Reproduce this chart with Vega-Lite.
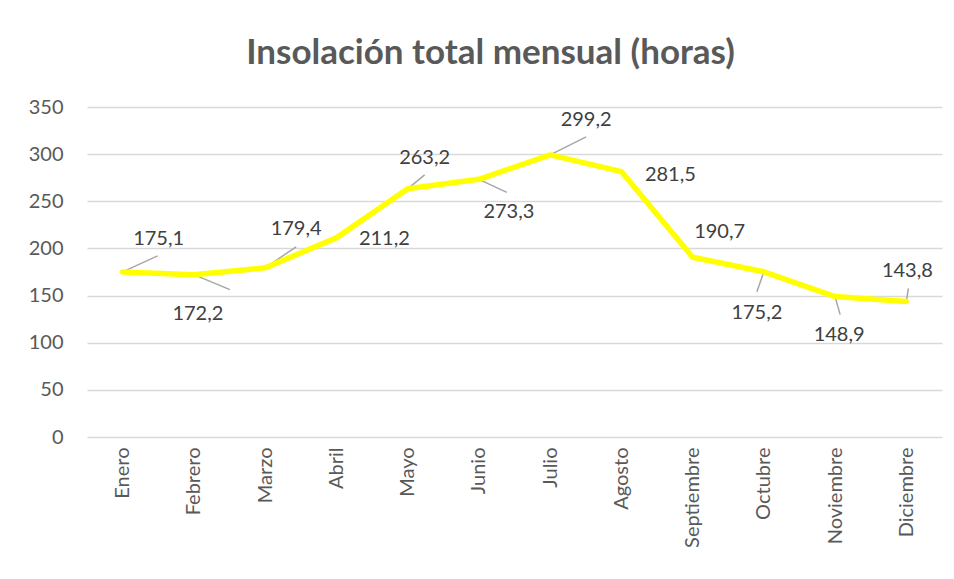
{
  "$schema": "https://vega.github.io/schema/vega-lite/v6.json",
  "width": 855,
  "height": 330,
  "autosize": {"type": "none"},
  "padding": {"left": 87, "top": 107, "right": 12, "bottom": 142},
  "background": "white",
  "config": {
    "locale": {"number": {"decimal": ",", "thousands": ".", "grouping": [3], "currency": ["", " €"]}},
    "view": {"stroke": null},
    "font": "Lato"
  },
  "title": {
    "text": "Insolación total mensual (horas)",
    "font": "Lato",
    "fontSize": 35,
    "fontWeight": "bold",
    "color": "#595959",
    "anchor": "middle",
    "dx": -24,
    "offset": 26
  },
  "data": {
    "values": [
      {"Mes": "Enero", "Horas": 175.1},
      {"Mes": "Febrero", "Horas": 172.2},
      {"Mes": "Marzo", "Horas": 179.4},
      {"Mes": "Abril", "Horas": 211.2},
      {"Mes": "Mayo", "Horas": 263.2},
      {"Mes": "Junio", "Horas": 273.3},
      {"Mes": "Julio", "Horas": 299.2},
      {"Mes": "Agosto", "Horas": 281.5},
      {"Mes": "Septiembre", "Horas": 190.7},
      {"Mes": "Octubre", "Horas": 175.2},
      {"Mes": "Noviembre", "Horas": 148.9},
      {"Mes": "Diciembre", "Horas": 143.8}
    ]
  },
  "encoding": {
    "x": {
      "field": "Mes",
      "type": "nominal",
      "sort": ["Enero", "Febrero", "Marzo", "Abril", "Mayo", "Junio", "Julio", "Agosto", "Septiembre", "Octubre", "Noviembre", "Diciembre"],
      "scale": {"type": "point", "padding": 0.5},
      "axis": {
        "title": null,
        "labelAngle": 270,
        "labelAlign": "right",
        "labelBaseline": "middle",
        "labelFont": "Lato",
        "labelFontSize": 20,
        "labelColor": "#595959",
        "labelPadding": 10,
        "ticks": false,
        "domain": false,
        "grid": false
      }
    },
    "y": {
      "field": "Horas",
      "type": "quantitative",
      "scale": {"domain": [0, 350]},
      "axis": {
        "title": null,
        "values": [0, 50, 100, 150, 200, 250, 300, 350],
        "labelFont": "Lato",
        "labelFontSize": 20,
        "labelColor": "#595959",
        "labelPadding": 24,
        "ticks": false,
        "domain": false,
        "gridColor": "#d9d9d9",
        "gridWidth": 1.5
      }
    }
  },
  "layer": [
    {
      "transform": [{"filter": "indexof(['Abril','Agosto','Septiembre'], datum.Mes) < 0"}],
      "mark": {
        "type": "rule",
        "color": "#a6a6a6",
        "strokeWidth": 1.5,
        "x2Offset": {"expr": "{'Enero':35,'Febrero':36,'Marzo':31,'Mayo':17,'Junio':28,'Julio':36,'Octubre':-7,'Noviembre':5,'Diciembre':2}[datum.Mes]"},
        "y2Offset": {"expr": "{'Enero':-16,'Febrero':15,'Marzo':-21,'Mayo':-14,'Junio':13,'Julio':-18,'Octubre':20,'Noviembre':18,'Diciembre':-13}[datum.Mes]"}
      },
      "encoding": {
        "x2": {"field": "Mes"},
        "y2": {"field": "Horas"}
      }
    },
    {
      "mark": {"type": "line", "color": "#ffff00", "strokeWidth": 5.5, "strokeJoin": "round", "strokeCap": "round"}
    },
    {
      "mark": {
        "type": "text",
        "font": "Lato",
        "fontSize": 20,
        "color": "#404040",
        "baseline": "middle",
        "align": "center",
        "dx": {"expr": "{'Enero':36,'Febrero':4,'Marzo':31,'Abril':48,'Mayo':17,'Junio':30,'Julio':36,'Agosto':49,'Septiembre':27,'Octubre':-7,'Noviembre':4,'Diciembre':1}[datum.Mes]"},
        "dy": {"expr": "{'Enero':-33,'Febrero':39,'Marzo':-39,'Abril':1,'Mayo':-31,'Junio':33,'Julio':-35,'Agosto':3,'Septiembre':-25,'Octubre':41,'Noviembre':38,'Diciembre':-30}[datum.Mes]"}
      },
      "encoding": {
        "text": {"field": "Horas", "type": "quantitative", "format": ".1f"}
      }
    }
  ]
}
